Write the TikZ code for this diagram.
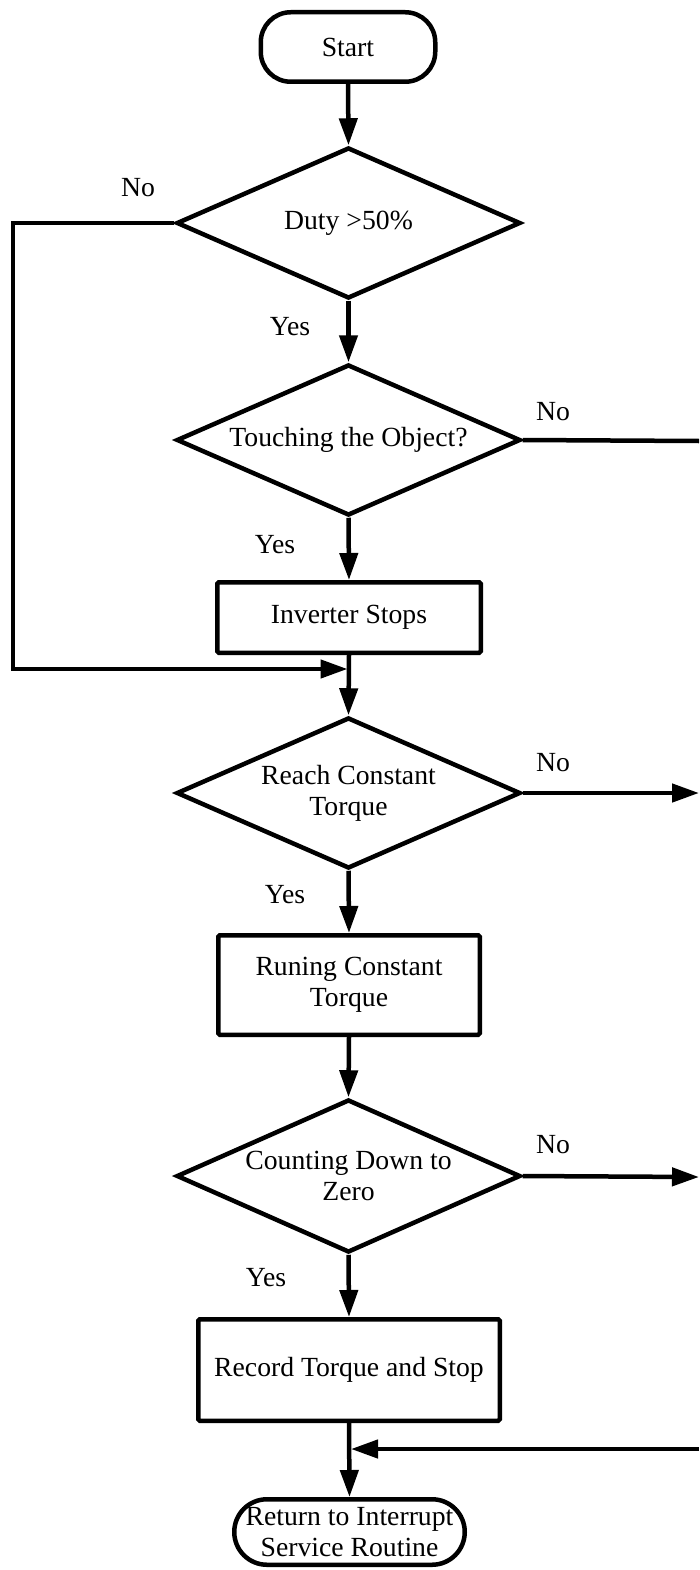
\documentclass[tikz,border=0pt]{standalone}
\usepackage{fontspec}
\setmainfont{Liberation Serif}
\usetikzlibrary{shapes.geometric,arrows.meta}
\begin{document}
\begin{tikzpicture}[x=1pt,y=-1pt,
  every node/.style={font=\fontsize{27.7}{31}\selectfont, inner sep=0pt},
  base/.style={draw=black, line width=4.5pt, align=center},
  term/.style={base, rectangle},
  procbox/.style={base, rectangle, rounded corners=1.5pt},
  decision/.style={base, diamond, shape aspect=2.3, minimum width=344pt, minimum height=151pt},
  conn/.style={line width=4.5pt},
  arr/.style={conn, -{Triangle[length=27pt,width=18pt]}},
  lbl/.style={}
]
\useasboundingbox (0,0) rectangle (699,1570);

\node[term, rounded corners=30pt, minimum width=174.5pt, minimum height=69.5pt] (start) at (348,47) {Start};
\node[decision] (d1) at (348.5,223) {Duty >50\%};
\node[decision] (d2) at (348.5,440) {Touching the Object?};
\node[procbox, minimum width=263.5pt, minimum height=70.5pt] (inv) at (349,617.5) {Inverter Stops};
\node[decision] (d3) at (348.5,793) {Reach Constant\\Torque};
\node[procbox, minimum width=261.5pt, minimum height=99.5pt] (run) at (349,985) {Runing Constant\\Torque};
\node[decision, minimum height=153pt] (d4) at (348.5,1176) {Counting Down to\\Zero};
\node[procbox, minimum width=301.5pt, minimum height=101.5pt] (rec) at (349,1370) {Record Torque and Stop};
\node[term, rounded corners=32.7pt, minimum width=230.5pt, minimum height=65.5pt] (fin) at (349.5,1532) {Return to Interrupt\\Service Routine};

\coordinate (cL1) at (13,223);
\coordinate (cL2) at (13,669);
\coordinate (j1) at (349,669);
\coordinate (eR1) at (699,441);
\coordinate (eR2) at (699,793);
\coordinate (eR3) at (699,1177);
\coordinate (eR4) at (699,1449);
\coordinate (j2) at (349,1449);

\draw[arr] (start.south) -- (d1.north);
\draw[arr] (d1.south) -- (d2.north);
\draw[arr] (d2.south) -- (inv.north);
\draw[arr] (inv.south) -- (d3.north);
\draw[arr] (d1.west) -- (cL1) -- (cL2) -- ([xshift=-1.5pt]j1);
\draw[conn] (d2.east) -- (eR1);
\draw[arr] (d3.east) -- (eR2);
\draw[arr] (d3.south) -- (run.north);
\draw[arr] (run.south) -- (d4.north);
\draw[arr] (d4.east) -- (eR3);
\draw[arr] (d4.south) -- (rec.north);
\draw[arr] (rec.south) -- (fin.north);
\draw[arr] (eR4) -- ([xshift=2pt]j2);

\node[lbl] (n1) at (138,188) {No};
\node[lbl] (y1) at (290,327) {Yes};
\node[lbl] (n2) at (553,412) {No};
\node[lbl] (y2) at (275,545) {Yes};
\node[lbl] (n3) at (553,763) {No};
\node[lbl] (y3) at (285,895) {Yes};
\node[lbl] (n4) at (553,1145) {No};
\node[lbl] (y4) at (266,1278) {Yes};
\end{tikzpicture}
\end{document}
